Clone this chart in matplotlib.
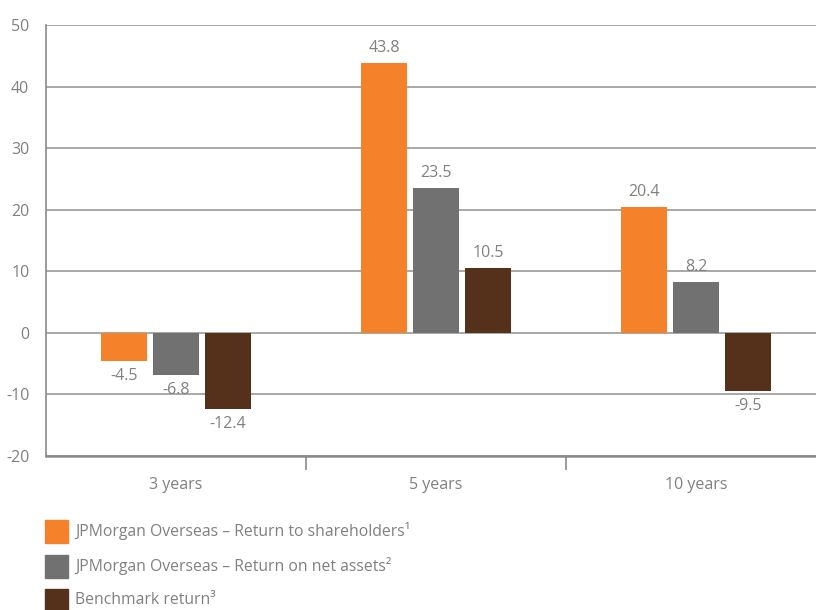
import matplotlib
matplotlib.use("Agg")
import matplotlib.pyplot as plt
from matplotlib.patches import Rectangle
import numpy as np

categories = ["3 years", "5 years", "10 years"]
shareholders = [-4.5, 43.8, 20.4]
net_assets = [-6.8, 23.5, 8.2]
benchmark = [-12.4, 10.5, -9.5]
series_names = ["JPMorgan Overseas \u2013 Return to shareholders\u00b9",
                "JPMorgan Overseas \u2013 Return on net assets\u00b2",
                "Benchmark return\u00b3"]
colors = ["#F5812A", "#717171", "#55311B"]
yticks = [-20, -10, 0, 10, 20, 30, 40, 50]

plt.rcParams['font.family'] = ['Open Sans', 'DejaVu Sans']
txt = "#808080"
fs = 11.5

fig = plt.figure(figsize=(8.16, 6.10), dpi=100)
W, H = 816, 610
ax = fig.add_axes([46 / W, (H - 456) / H, 780 / W, 431 / H])

x = np.arange(len(categories))
step = 0.2
bw = 46 / 260
for i, (vals, c) in enumerate(zip([shareholders, net_assets, benchmark], colors)):
    xs = x + (i - 1) * step
    ax.bar(xs, vals, width=bw, color=c, zorder=3)
    for xi, v in zip(xs, vals):
        if v >= 0:
            ax.annotate(f"{v:.1f}", (xi, v), xytext=(0, 5), textcoords="offset points",
                        ha="center", va="bottom", fontsize=fs, color=txt)
        else:
            ax.annotate(f"{v:.1f}", (xi, v), xytext=(0, -5), textcoords="offset points",
                        ha="center", va="top", fontsize=fs, color=txt)

ax.set_xlim(-0.5, 2.5)
ax.set_ylim(-20, 50)
ax.set_yticks(yticks)
ax.set_yticklabels([str(t) for t in yticks])
ax.yaxis.grid(True, color="#9a9a9a", linewidth=1.2, zorder=0)
ax.set_axisbelow(True)
for s in ["top", "right"]:
    ax.spines[s].set_visible(False)
ax.spines["left"].set_color("#8a8a8a")
ax.spines["left"].set_linewidth(1.2)
ax.spines["bottom"].set_color("#8a8a8a")
ax.spines["bottom"].set_linewidth(1.8)
ax.tick_params(axis="y", length=0, pad=12, labelsize=fs, labelcolor=txt)
ax.set_xticks([0.5, 1.5])
ax.set_xticklabels([])
ax.tick_params(axis="x", which="major", length=10, width=1.2, color="#8a8a8a", direction="out")
ax.set_xticks(x, minor=True)
ax.set_xticklabels(categories, minor=True)
ax.tick_params(axis="x", which="minor", length=0, pad=15, labelsize=fs, labelcolor=txt)

# legend
rows = [531, 566, 600]
for name, c, yc in zip(series_names, colors, rows):
    fig.patches.append(Rectangle((45 / W, (H - yc - 11.5) / H), 23 / W, 23 / H,
                                 transform=fig.transFigure, color=c))
    fig.text(75 / W, (H - yc) / H, name, ha="left", va="center", fontsize=11.3, color=txt)

fig.savefig("out.png", dpi=100)
